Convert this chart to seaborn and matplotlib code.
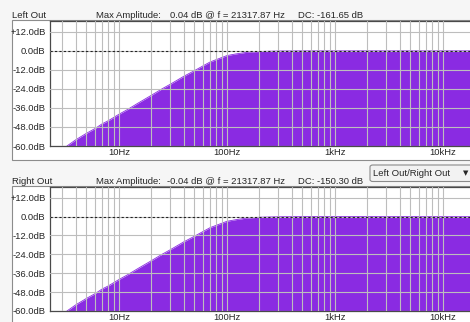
import numpy as np
import pandas as pd
import matplotlib
matplotlib.use("Agg")
import matplotlib.pyplot as plt
import seaborn as sns
from matplotlib.patches import Rectangle, FancyBboxPatch
from matplotlib.ticker import FixedLocator, NullFormatter

# values (Hz, dB)
freq_hz = [3.3, 4, 5, 6, 7, 8, 10, 12, 15, 20, 25, 30, 40, 50, 60, 70, 80,
           100, 120, 150, 200, 300, 500, 1000, 22050]
left_db = [-60, -56, -52, -49, -46, -44, -40, -37, -33, -28, -24, -21, -16,
           -12.5, -9.5, -7, -5.5, -3, -2, -1, -0.4, -0.1, 0, 0, 0]
right_db = [-60, -56, -52, -49, -46, -44, -40, -37, -33, -28, -24, -21, -16,
            -12.5, -9.5, -7, -5.5, -3, -2, -1, -0.4, -0.1, 0, 0, -0.04]

channels = ["Left Out", "Right Out"]
max_amp = ["0.04 dB @ f = 21317.87 Hz", "-0.04 dB @ f = 21317.87 Hz"]
dc_text = ["DC: -161.65 dB", "DC: -150.30 dB"]
db_ticks = [-60, -48, -36, -24, -12, 0, 12]
db_labels = ["-60.0dB", "-48.0dB", "-36.0dB", "-24.0dB", "-12.0dB", "0.0dB", "+12.0dB"]
hz_ticks = [10, 100, 1000, 10000]
hz_labels = ["10Hz", "100Hz", "1kHz", "10kHz"]

sns.set_style("white")
plt.rcParams["font.family"] = ["Liberation Sans", "DejaVu Sans"]
plt.rcParams["font.size"] = 6.8

W, H = 470, 322
PURPLE = "#8a2be2"
GRID = "#bdbdbd"
fig = plt.figure(figsize=(W / 100, H / 100), dpi=100, facecolor="#f6f6f6")


def fx(px):
    return px / W


def fy(py):
    return 1 - py / H


panels = [(20, 21, 146, 160), (186, 187, 311, 330)]
series = [left_db, right_db]

for i, (box_top, ax_top, ax_bot, box_bot) in enumerate(panels):
    # white panel box with border, behind the axes
    fig.patches.append(Rectangle((fx(12), fy(box_bot)), fx(470), fy(box_top) - fy(box_bot),
                                 transform=fig.transFigure, facecolor="white",
                                 edgecolor="#8c8c8c", lw=0.8, zorder=-5))
    hy = box_top - 5
    fig.text(fx(12), fy(hy), channels[i], ha="left", va="center")
    fig.text(fx(96), fy(hy), "Max Amplitude:", ha="left", va="center")
    fig.text(fx(167 if i else 170), fy(hy), max_amp[i], ha="left", va="center")
    fig.text(fx(298), fy(hy), dc_text[i], ha="left", va="center")

    ax = fig.add_axes([fx(50), fy(ax_bot), fx(430), fy(ax_top) - fy(ax_bot)], zorder=1)
    df = pd.DataFrame({"freq": freq_hz, "db": series[i]})
    ax.fill_between(df["freq"], df["db"], -80, color=PURPLE, lw=0, zorder=1)
    sns.lineplot(data=df, x="freq", y="db", ax=ax, color=PURPLE, lw=0.6, zorder=1)
    ax.axhline(0, color="#222222", ls=(0, (2, 2)), lw=0.8, zorder=4)

    ax.set_xscale("log")
    ax.set_xlim(2.3, 22050)
    ax.set_ylim(-60, 18.8)
    ax.xaxis.set_major_locator(FixedLocator(hz_ticks))
    ax.set_xticklabels(hz_labels)
    minors = [m * 10.0 ** e for e in range(0, 5) for m in range(2, 10)]
    ax.xaxis.set_minor_locator(FixedLocator([m for m in minors if 2.3 < m < 22050]))
    ax.xaxis.set_minor_formatter(NullFormatter())
    ax.set_yticks(db_ticks)
    ax.set_yticklabels(db_labels)
    ax.set_xlabel("")
    ax.set_ylabel("")
    ax.set_axisbelow(False)
    ax.grid(True, which="both", color=GRID, lw=0.8, zorder=2)
    ax.tick_params(axis="both", which="both", length=0)
    ax.tick_params(axis="y", pad=3.2)
    ax.tick_params(axis="x", pad=1.2)
    for side in ["left", "bottom", "top"]:
        ax.spines[side].set_color("#4a4a4a")
        ax.spines[side].set_linewidth(0.9)
    ax.spines["right"].set_visible(False)
    ax.patch.set_facecolor("white")

# channel selector box
fig.patches.append(FancyBboxPatch((fx(370), fy(181.5)), fx(110), fy(165) - fy(181.5),
                                  boxstyle="round,pad=0,rounding_size=0.006",
                                  transform=fig.transFigure, facecolor="#f2f2f2",
                                  edgecolor="#8a8a8a", lw=0.8, zorder=3))
fig.text(fx(373), fy(173), "Left Out/Right Out", ha="left", va="center", zorder=4)
fig.text(fx(466), fy(173), "\u25bc", ha="center", va="center", fontsize=5,
         family=["DejaVu Sans"], zorder=4)

fig.savefig("out.png", dpi=100, facecolor=fig.get_facecolor())
